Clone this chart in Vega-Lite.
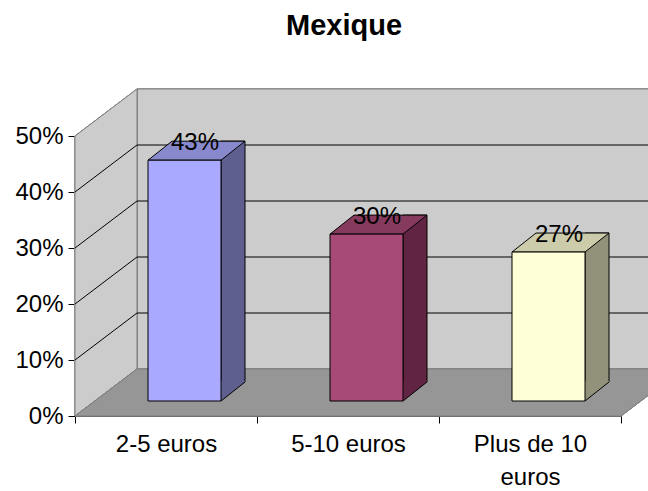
{
  "$schema": "https://vega.github.io/schema/vega-lite/v6.json",
  "width": 546,
  "height": 280,
  "autosize": "none",
  "padding": {"left": 75, "top": 136, "right": 27, "bottom": 75},
  "background": "white",
  "title": {"text": "Mexique", "font": "Liberation Sans", "fontSize": 29, "fontWeight": "bold", "color": "black", "anchor": "middle", "frame": "group", "offset": 46, "dx": -4},
  "config": {
    "view": {"stroke": null},
    "font": "Liberation Sans",
    "axis": {"grid": false, "labelFont": "Liberation Sans", "labelFontSize": 24, "labelColor": "black", "domainColor": "black", "tickColor": "black", "tickSize": 7, "titleColor": "black"}
  },
  "data": {"values": [
    {"categorie": "2-5 euros", "part": 0.43},
    {"categorie": "5-10 euros", "part": 0.298},
    {"categorie": "Plus de 10 euros", "part": 0.266}
  ]},
  "layer": [
    {
      "mark": {"type": "rect", "fill": "#cccccc", "stroke": "#808080", "strokeWidth": 1, "xOffset": 62, "x2Offset": 62, "yOffset": -47, "y2Offset": -47},
      "encoding": {
        "x": {"value": 0},
        "x2": {"value": "width"},
        "y": {"datum": 0.5, "type": "quantitative", "title": null, "scale": {"domain": [0, 0.5], "nice": false}},
        "y2": {"datum": 0}
      }
    },
    {
      "mark": {"type": "point", "shape": "M0,0L0,-280L62,-327L62,-47Z", "size": 4, "filled": true, "fill": "#cccccc", "stroke": "#808080", "strokeWidth": 1, "opacity": 1},
      "encoding": {
        "x": {"value": 0},
        "y": {"datum": 0, "type": "quantitative", "title": null}
      }
    },
    {
      "mark": {"type": "point", "shape": "M0,0L62,-47L608,-47L546,0Z", "size": 4, "filled": true, "fill": "#969696", "stroke": "#808080", "strokeWidth": 1, "opacity": 1},
      "encoding": {
        "x": {"value": 0},
        "y": {"datum": 0, "type": "quantitative", "title": null}
      }
    },
    {
      "data": {"values": [{"v": 0.1}, {"v": 0.2}, {"v": 0.3}, {"v": 0.4}]},
      "mark": {"type": "rule", "stroke": "black", "strokeWidth": 1, "xOffset": 62, "x2Offset": 62, "yOffset": -47},
      "encoding": {
        "x": {"value": 0},
        "x2": {"value": "width"},
        "y": {"field": "v", "type": "quantitative", "title": null}
      }
    },
    {
      "data": {"values": [{"v": 0.1}, {"v": 0.2}, {"v": 0.3}, {"v": 0.4}]},
      "mark": {"type": "point", "shape": "M0,0L62,-47", "size": 4, "filled": false, "stroke": "black", "strokeWidth": 1, "opacity": 1},
      "encoding": {
        "x": {"value": 0},
        "y": {"field": "v", "type": "quantitative", "title": null}
      }
    },
    {
      "mark": {"type": "bar", "width": 24, "xOffset": 67, "yOffset": -34, "y2Offset": -34, "stroke": "black", "strokeWidth": 1, "opacity": 1},
      "encoding": {
        "x": {"field": "categorie", "type": "nominal", "title": null, "scale": {"paddingInner": 0, "paddingOuter": 0}},
        "y": {"field": "part", "type": "quantitative", "title": null},
        "color": {"field": "categorie", "type": "nominal", "legend": null, "scale": {"domain": ["2-5 euros", "5-10 euros", "Plus de 10 euros"], "range": ["#5F5F8F", "#612442", "#92927A"]}}
      }
    },
    {
      "mark": {"type": "point", "shape": "M55,-15L55,-35L79,-35L79,-34Z", "size": 4, "filled": true, "strokeWidth": 0, "opacity": 1},
      "encoding": {
        "x": {"field": "categorie", "type": "nominal", "title": null},
        "y": {"datum": 0, "type": "quantitative", "title": null},
        "color": {"field": "categorie", "type": "nominal", "legend": null, "scale": {"domain": ["2-5 euros", "5-10 euros", "Plus de 10 euros"], "range": ["#5F5F8F", "#612442", "#92927A"]}}
      }
    },
    {
      "mark": {"type": "point", "shape": "M55,-15L79,-34", "size": 4, "filled": false, "stroke": "black", "strokeWidth": 1, "opacity": 1},
      "encoding": {
        "x": {"field": "categorie", "type": "nominal", "title": null},
        "y": {"datum": 0, "type": "quantitative", "title": null}
      }
    },
    {
      "mark": {"type": "point", "shape": "M-18,-15L55,-15L79,-34L6,-34Z", "size": 4, "filled": true, "stroke": "black", "strokeWidth": 1, "opacity": 1},
      "encoding": {
        "x": {"field": "categorie", "type": "nominal", "title": null},
        "y": {"field": "part", "type": "quantitative", "title": null},
        "color": {"field": "categorie", "type": "nominal", "legend": null, "scale": {"domain": ["2-5 euros", "5-10 euros", "Plus de 10 euros"], "range": ["#8888CC", "#863A5E", "#CCCCAA"]}}
      }
    },
    {
      "mark": {"type": "bar", "width": 73, "xOffset": 18.5, "yOffset": -15, "y2Offset": -15, "stroke": "black", "strokeWidth": 1, "opacity": 1},
      "encoding": {
        "x": {"field": "categorie", "type": "nominal", "title": null,
              "axis": {"labelAngle": 0, "labelAlign": "center", "tickBand": "extent", "labelPadding": 21, "labelLineHeight": 33, "labelLimit": 0,
                       "labelExpr": "datum.value == 'Plus de 10 euros' ? ['Plus de 10', 'euros'] : datum.label"}},
        "y": {"field": "part", "type": "quantitative", "title": null,
              "axis": {"values": [0, 0.1, 0.2, 0.3, 0.4, 0.5], "format": ".0%", "labelPadding": 5}},
        "color": {"field": "categorie", "type": "nominal", "legend": null, "scale": {"domain": ["2-5 euros", "5-10 euros", "Plus de 10 euros"], "range": ["#A9A9FF", "#A84A78", "#FFFFD7"]}}
      }
    },
    {
      "mark": {"type": "text", "dx": 29, "dy": -25, "fontSize": 24, "baseline": "alphabetic", "align": "center", "color": "black"},
      "encoding": {
        "x": {"field": "categorie", "type": "nominal", "title": null},
        "y": {"field": "part", "type": "quantitative", "title": null},
        "text": {"field": "part", "type": "quantitative", "format": ".0%"}
      }
    }
  ],
  "resolve": {"scale": {"color": "independent"}}
}
